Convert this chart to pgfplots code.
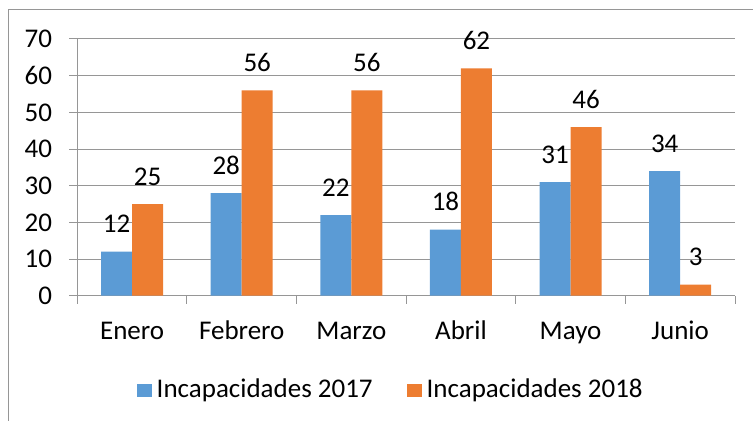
\documentclass[border=0pt]{standalone}
\usepackage{pgfplots}
\pgfplotsset{compat=1.18}
\usepackage{fontspec}
\setmainfont{Carlito}
\definecolor{cblue}{HTML}{5B9BD5}
\definecolor{corange}{HTML}{ED7D31}
\definecolor{lgray}{RGB}{150,150,150}
\begin{document}
\fontsize{27bp}{31bp}\selectfont
\begin{tikzpicture}
\path[use as bounding box] (0bp,0bp) rectangle (753bp,421bp);
\draw[lgray, line width=1bp] (8bp,0bp) -- (8bp,411.7bp) -- (753bp,411.7bp);
\begin{axis}[
  at={(77.3bp,125.3bp)}, anchor=south west,
  scale only axis, width=657.7bp, height=256.7bp,
  ybar, bar width=31bp,
  xmin=-0.5, xmax=5.5, ymin=0, ymax=70,
  ytick={0,10,...,70},
  xtick={0,1,2,3,4,5},
  xticklabels={Enero,Febrero,Marzo,Abril,Mayo,Junio},
  minor xtick={-0.5,0.5,...,5.5},
  major x tick style={draw=none},
  minor tick length=8bp, major tick length=8bp,
  tick align=outside,
  ytick style={lgray, line width=1bp},
  minor x tick style={lgray, line width=1bp},
  axis x line*=bottom, axis y line*=left,
  axis line style={lgray, line width=1bp, -},
  ymajorgrids, grid style={lgray, line width=1bp},
  /pgf/number format/assume math mode=true,
  yticklabel style={anchor=east, inner sep=0pt, xshift=-17bp},
  xticklabel style={anchor=base, inner sep=0pt, yshift=-36bp},
  nodes near coords,
  every node near coord/.append style={anchor=base, yshift=19bp, text=black, inner sep=0pt},
  legend columns=2,
  legend style={draw=none, fill=none, at={(0.4765,-0.368)}, anchor=center,
    /tikz/every odd column/.append style={column sep=3bp},
    /tikz/every even column/.append style={column sep=32bp},
    font=\fontsize{27bp}{31bp}\selectfont},
  legend image code/.code={\fill[#1] (0bp,-6.5bp) rectangle (15bp,6.5bp);},
]
\addplot[fill=cblue, draw=none, bar shift=-15.5bp] coordinates {(0,12) (1,28) (2,22) (3,18) (4,31) (5,34)};
\addplot[fill=corange, draw=none, bar shift=15.5bp] coordinates {(0,25) (1,56) (2,56) (3,62) (4,46) (5,3)};
\legend{Incapacidades 2017, Incapacidades 2018}
\end{axis}
\end{tikzpicture}
\end{document}
